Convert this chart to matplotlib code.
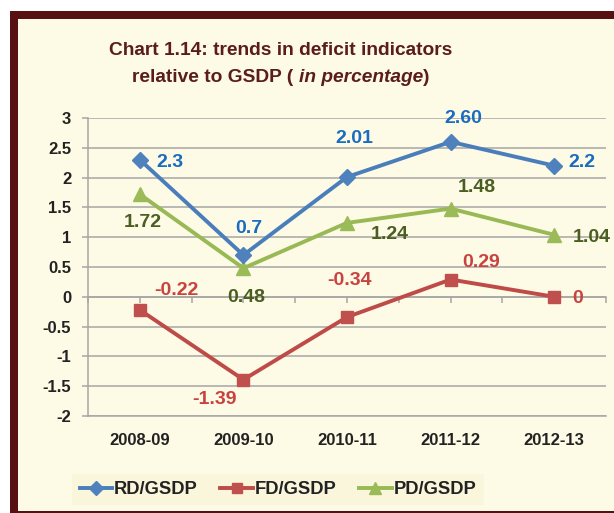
import matplotlib
matplotlib.use("Agg")
import matplotlib.pyplot as plt
from matplotlib.patches import Rectangle
from matplotlib import font_manager

# ---------------- data ----------------
categories = ["2008-09", "2009-10", "2010-11", "2011-12", "2012-13"]
rd_values = [2.3, 0.7, 2.01, 2.60, 2.2]
fd_values = [-0.22, -1.39, -0.34, 0.29, 0]
pd_values = [1.72, 0.48, 1.24, 1.48, 1.04]
rd_labels = ["2.3", "0.7", "2.01", "2.60", "2.2"]
fd_labels = ["-0.22", "-1.39", "-0.34", "0.29", "0"]
pd_labels = ["1.72", "0.48", "1.24", "1.48", "1.04"]
series_names = ["RD/GSDP", "FD/GSDP", "PD/GSDP"]
y_ticks = [-2, -1.5, -1, -0.5, 0, 0.5, 1, 1.5, 2, 2.5, 3]
y_ticklabels = ["-2", "-1.5", "-1", "-0.5", "0", "0.5", "1", "1.5", "2", "2.5", "3"]

# ---------------- style ----------------
W, H = 614, 513
BG = "#FDFAE5"
MAROON = "#581111"
GRID = "#A6A6A6"
TXT = "#222222"
names = {f.name for f in font_manager.fontManager.ttflist}
SANS = "Liberation Sans" if "Liberation Sans" in names else "DejaVu Sans"
NARROW = "Liberation Sans Narrow" if "Liberation Sans Narrow" in names else None

plt.rcParams["font.family"] = [SANS, "DejaVu Sans"]

fig = plt.figure(figsize=(W / 100, H / 100), dpi=100, facecolor="white")


def fx(x):
    return x / W


def fy(y):
    return 1 - y / H


# frame
fig.add_artist(Rectangle((fx(10), 0), 1, fy(11), transform=fig.transFigure,
                         facecolor=MAROON, edgecolor="none", zorder=-5))
fig.add_artist(Rectangle((fx(18), fy(511)), 1, fy(19) - fy(511), transform=fig.transFigure,
                         facecolor=BG, edgecolor="none", zorder=-4))

# axes
ax = fig.add_axes([fx(88), fy(416), fx(606) - fx(88), fy(118) - fy(416)])
ax.set_facecolor(BG)
ax.patch.set_alpha(0)
ax.set_xlim(-0.5, len(categories) - 0.5)
ax.set_ylim(-2, 3)
ax.set_yticks(y_ticks)
ax.set_yticklabels(y_ticklabels)
ax.set_xticks(range(len(categories)))
ax.set_xticklabels(categories)
ax.yaxis.grid(True, color=GRID, linewidth=1.1)
ax.set_axisbelow(True)
for s in ["top", "right"]:
    ax.spines[s].set_visible(False)
ax.spines["left"].set_color(GRID)
ax.spines["left"].set_linewidth(1.1)
ax.spines["bottom"].set_color(GRID)
ax.spines["bottom"].set_linewidth(1.1)
ax.tick_params(axis="y", length=4, color=GRID, width=1.1, pad=8,
               labelsize=12, labelcolor=TXT)
ax.tick_params(axis="x", length=0, pad=12, labelsize=12, labelcolor=TXT)
for lab in ax.get_xticklabels() + ax.get_yticklabels():
    lab.set_fontweight("bold")

# zero axis with tick marks
sec = ax.secondary_xaxis(2 / 5)
sec.spines["bottom"].set_color(GRID)
sec.spines["bottom"].set_linewidth(1.1)
sec.set_xticks([i * 0.5 - 0.5 for i in range(2 * len(categories) + 1)])
sec.tick_params(length=4, color=GRID, width=1.1, labelbottom=False, direction="out")

x = list(range(len(categories)))
line_colors = ["#4A7EBB", "#BE4B48", "#98B954"]
mk_colors = ["#4F81BD", "#C0504D", "#9BBB59"]
markers = ["D", "s", "^"]
msizes = [8, 9, 10]
lab_colors = ["#1A6CC0", "#C8433F", "#4A5E22"]
series = [rd_values, fd_values, pd_values]
labels = [rd_labels, fd_labels, pd_labels]
offsets = [
    [(22, -2), (4, 19), (5, 28), (9, 17), (20, 2)],
    [(26, 14), (-21, -14), (2, 26), (22, 12), (17, -1)],
    [(2, -20), (2, -21), (31, -8), (19, 15), (27, -2)],
]

handles = []
for k in [0, 1, 2]:
    h, = ax.plot(x, series[k], color=line_colors[k], linewidth=2.8,
                 marker=markers[k], markersize=msizes[k],
                 markerfacecolor=mk_colors[k], markeredgecolor=mk_colors[k],
                 label=series_names[k], zorder=3 + (k == 0), clip_on=False)
    handles.append(h)
for k in [0, 1, 2]:
    for i in x:
        ax.annotate(labels[k][i], (i, series[k][i]), xytext=offsets[k][i],
                    textcoords="offset points", ha="center", va="center",
                    fontsize=14, fontweight="bold", color=lab_colors[k], zorder=6)

# legend
leg = fig.legend(handles=handles, loc="center", bbox_to_anchor=(fx(278), fy(489.5)),
                 ncol=3, frameon=True, fontsize=13.2, handlelength=1.75,
                 handletextpad=0.12, columnspacing=1.25, markerscale=0.85,
                 borderpad=0.4, borderaxespad=0, fancybox=False)
leg.get_frame().set_facecolor("#FAF5DA")
leg.get_frame().set_edgecolor("none")
for t in leg.get_texts():
    t.set_fontweight("bold")
    t.set_color(TXT)

# title (mixed style)
TCOL = "#5A1C1C"
tfam = [NARROW, SANS] if NARROW else [SANS]
tsize = 16.5 if NARROW else 13.8
fig.text(fx(281), fy(51), "Chart 1.14: trends in deficit indicators", ha="center",
         va="center", fontsize=tsize, fontweight="bold", color=TCOL, family=tfam)
renderer = fig.canvas.get_renderer()
parts = [("relative to GSDP ( ", "normal"), ("in percentage", "italic"), (")", "normal")]
objs = []
for txt, st in parts:
    objs.append(fig.text(0, fy(77), txt, ha="left", va="center", fontsize=tsize,
                         fontweight="bold", style=st, color=TCOL, family=tfam))
widths = [o.get_window_extent(renderer).width for o in objs]
start = 281 - sum(widths) / 2
for o, w in zip(objs, widths):
    o.set_x(fx(start))
    start += w

fig.savefig("out.png", dpi=100, facecolor="white")
